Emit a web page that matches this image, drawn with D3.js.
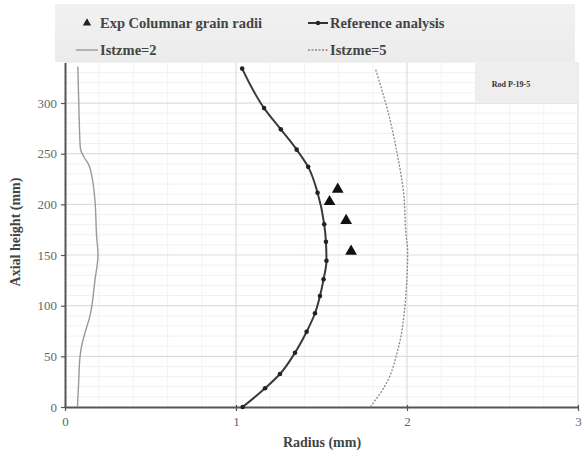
<!DOCTYPE html>
<html><head><meta charset="utf-8">
<script src="https://cdn.jsdelivr.net/npm/d3@7/dist/d3.min.js"></script>
<style>body{margin:0;background:#fff}svg{display:block}svg text{font-family:"Liberation Serif","Times New Roman","DejaVu Serif",serif !important}</style>
</head><body><div id="chart"></div>
<script>
// Data
const refRadius = [1.039,1.170,1.257,1.345,1.413,1.462,1.491,1.512,1.529,1.526,1.516,1.477,1.422,1.355,1.262,1.164,1.036];
const refHeight = [0,18.5,32.6,53.6,74.3,92.5,109.5,126,144.4,163,180.3,211.5,237,254,274,295,334];
const expRadius = [1.673,1.644,1.547,1.595];
const expHeight = [153.7,183.9,202.6,214.8];
const ist2Radius = [0.073,0.080,0.088,0.097,0.120,0.146,0.175,0.193,0.185,0.175,0.160,0.136,0.110,0.090,0.082,0.075];
const ist2Height = [0,25,50,60,75,90,125,150,168,204,225,240,247,255,290,336];
const ist5Radius = [1.785,1.878,1.946,1.991,2.004,1.995,1.979,1.946,1.897,1.815];
const ist5Height = [0,23,56,106,155,168,213,247,286,334];
const xTicks = [0,1,2,3];
const yTicks = [0,50,100,150,200,250,300];
const legendLabels = ["Exp Columnar grain radii","Reference analysis","Istzme=2","Istzme=5"];
const rodLabel = "Rod P-19-5";

const W=585,H=456;
const svg=d3.select("#chart").append("svg").attr("width",W).attr("height",H);

const x=d3.scaleLinear().domain([0,3]).range([65,578]);
const y=d3.scaleLinear().domain([0,340]).range([407,62.5]);

// legend background
const lg=svg.append("defs").append("linearGradient").attr("id","lgbg").attr("x1",0).attr("x2",0).attr("y1",0).attr("y2",1);
lg.append("stop").attr("offset","0%").attr("stop-color","#f1f1f1");
lg.append("stop").attr("offset","100%").attr("stop-color","#ececec");
svg.append("rect").attr("x",55).attr("y",4).attr("width",520).attr("height",58).attr("fill","url(#lgbg)");

// minor grid
const minorY=d3.range(10,341,10).filter(v=>v%50!==0);
svg.append("g").selectAll("line").data(minorY).join("line")
 .attr("x1",x(0)).attr("x2",x(3)).attr("y1",d=>y(d)).attr("y2",d=>y(d))
 .attr("stroke","#f1f1f1").attr("stroke-width",1);
const minorX=d3.range(0.2,3,0.2).filter(v=>Math.abs(v-Math.round(v))>0.01);
svg.append("g").selectAll("line").data(minorX).join("line")
 .attr("x1",d=>x(d)).attr("x2",d=>x(d)).attr("y1",y(0)).attr("y2",y(340))
 .attr("stroke","#f3f3f3").attr("stroke-width",1);
// major grid
svg.append("g").selectAll("line").data(yTicks.slice(1)).join("line")
 .attr("x1",x(0)).attr("x2",x(3)).attr("y1",d=>y(d)).attr("y2",d=>y(d))
 .attr("stroke","#dddddd").attr("stroke-width",1.2);
svg.append("g").selectAll("line").data(xTicks.slice(1)).join("line")
 .attr("x1",d=>x(d)).attr("x2",d=>x(d)).attr("y1",y(0)).attr("y2",y(340))
 .attr("stroke","#dddddd").attr("stroke-width",1.2);

// Rod label box
svg.append("rect").attr("x",475).attr("y",63).attr("width",103).attr("height",40).attr("fill","#eeeeee");
svg.append("text").attr("x",511).attr("y",87).attr("text-anchor","middle")
 .attr("font-weight","bold").attr("font-size",8).attr("fill","#333").text(rodLabel);

// axes
const xAxis=d3.axisBottom(x).tickValues(xTicks).tickFormat(d3.format("d")).tickSize(4).tickSizeOuter(0);
const gx=svg.append("g").attr("transform",`translate(0,${y(0)})`).call(xAxis);
gx.select(".domain").attr("stroke","#555").attr("stroke-width",2);
gx.selectAll(".tick line").attr("stroke","#555").attr("stroke-width",1.2).attr("y1",-2);
gx.selectAll("text").attr("font-size",13).attr("fill","#666").attr("dy","0.9em");

const yAxis=d3.axisLeft(y).tickValues(yTicks).tickSize(4).tickSizeOuter(0);
const gy=svg.append("g").attr("transform",`translate(${x(0)},0)`).call(yAxis);
gy.select(".domain").attr("stroke","#555").attr("stroke-width",2);
gy.selectAll(".tick line").attr("stroke","#555").attr("stroke-width",1.2).attr("x1",0);
gy.selectAll("text").attr("font-size",13).attr("fill","#666").attr("x",-8);

svg.append("text").attr("x",322).attr("y",447).attr("text-anchor","middle")
 .attr("font-weight","bold").attr("font-size",14).attr("fill","#444").text("Radius (mm)");
svg.append("text").attr("transform","translate(20,232) rotate(-90)").attr("text-anchor","middle")
 .attr("font-weight","bold").attr("font-size",14).attr("fill","#444").text("Axial height (mm)");

// lines
const line=d3.line().x(d=>x(d[0])).y(d=>y(d[1])).curve(d3.curveMonotoneY);
const ist2=ist2Radius.map((r,i)=>[r,ist2Height[i]]);
const ist5=ist5Radius.map((r,i)=>[r,ist5Height[i]]);
const ref=refRadius.map((r,i)=>[r,refHeight[i]]);
svg.append("path").attr("d",line(ist2)).attr("fill","none").attr("stroke","#999").attr("stroke-width",1.4);
svg.append("path").attr("d",line(ist5)).attr("fill","none").attr("stroke","#888").attr("stroke-width",1.3).attr("stroke-dasharray","2,1.5");
svg.append("path").attr("d",line(ref)).attr("fill","none").attr("stroke","#3a3a3a").attr("stroke-width",2);
svg.append("g").selectAll("circle").data(ref).join("circle")
 .attr("cx",d=>x(d[0])).attr("cy",d=>y(d[1])).attr("r",2.3).attr("fill","#222");
const tri=d3.symbol().type(d3.symbolTriangle).size(60);
svg.append("g").selectAll("path").data(expRadius.map((r,i)=>[r,expHeight[i]])).join("path")
 .attr("d",tri).attr("transform",d=>`translate(${x(d[0])},${y(d[1])})`).attr("fill","#111");

// legend
function txt(t,xx,yy){svg.append("text").attr("x",xx).attr("y",yy).attr("font-weight","bold").attr("font-size",14.5).attr("fill","#444").text(t);}
svg.append("path").attr("d",d3.symbol().type(d3.symbolTriangle).size(30)).attr("transform","translate(87,23)").attr("fill","#222");
txt(legendLabels[0],100,28);
svg.append("line").attr("x1",308).attr("x2",328).attr("y1",23).attr("y2",23).attr("stroke","#333").attr("stroke-width",2);
svg.append("circle").attr("cx",318).attr("cy",23).attr("r",2.2).attr("fill","#222");
txt(legendLabels[1],330,28);
svg.append("line").attr("x1",76).attr("x2",98).attr("y1",50).attr("y2",50).attr("stroke","#999").attr("stroke-width",1.4);
txt(legendLabels[2],100,55);
svg.append("line").attr("x1",308).attr("x2",328).attr("y1",50).attr("y2",50).attr("stroke","#888").attr("stroke-width",1.3).attr("stroke-dasharray","2,1.5");
txt(legendLabels[3],330,55);
</script></body></html>
